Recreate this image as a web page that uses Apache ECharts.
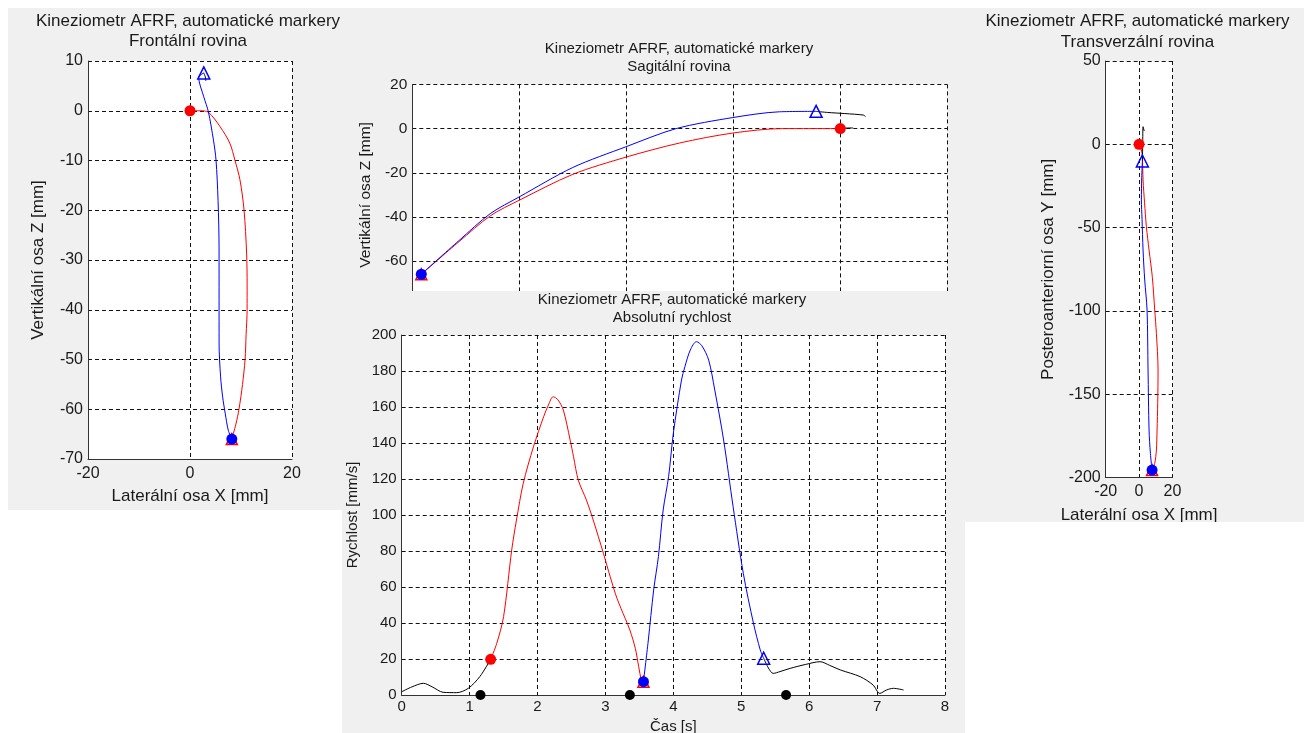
<!DOCTYPE html>
<html>
<head>
<meta charset="utf-8">
<script src="https://cdn.jsdelivr.net/npm/echarts@6/dist/echarts.min.js"></script>
<style>
  body { margin: 0; background: #fff; width: 1304px; height: 733px; overflow: hidden; position: relative; }
  .panel { position: absolute; background: #f0f0f0; }
  #frontal { left: 8px; top: 8px; width: 334px; height: 502px; }
  #sagittal { left: 342px; top: 8px; width: 623px; height: 300px; z-index: 1; }
  #velocity { left: 342px; top: 291px; width: 623px; height: 442px; z-index: 2; }
  #transverse { left: 965px; top: 8px; width: 339px; height: 514px; }
</style>
</head>
<body>
<div class="panel" id="frontal"></div>
<div class="panel" id="sagittal"></div>
<div class="panel" id="velocity"></div>
<div class="panel" id="transverse"></div>
<script>
var TITLE = 'Kineziometr AFRF, automatické markery';

// frontalni rovina: [X, Z]
var frontalRed = [[0, 0], [2, 0], [3.6, -0.3], [5.9, -3.2], [7.8, -6.5], [8.8, -9.9], [9.8, -13.9], [10.6, -20], [11.1, -28.6], [11.2, -35], [11.2, -40], [11, -45], [10.8, -50], [10.3, -55], [9.6, -60], [9, -63], [8.2, -66]];
var frontalBlue = [[8.2, -66], [7.5, -64.2], [6.9, -60.8], [6.4, -57.5], [6.0, -53.5], [5.7, -46.7], [5.7, -38], [5.7, -28], [5.5, -18], [5.1, -9.9], [4.6, -5.9], [3.6, -0.2], [2.7, 2.8], [1.7, 6.7], [2.7, 7.6]];
var frontalBlack = [[2.7, 7.6], [3.0, 6.8], [3.1, 6.0]];
var frontalMarks = { redStart: [0, 0], redEnd: [8.2, -66], blueStart: [8.2, -66], blueEnd: [2.7, 7.6] };

// sagitalni rovina: [Y, Z]
var sagRed = [[0, 0], [-26.9, 0], [-50.2, -2], [-75, -6.5], [-100.1, -12.9], [-125, -20.7], [-150, -32.4], [-163.6, -39.5], [-178.1, -51.1], [-195.8, -65.9]];
var sagBlue = [[-195.8, -65.9], [-178.1, -50.6], [-163.6, -38.5], [-150, -30.9], [-125, -17.6], [-100.1, -8.2], [-76.7, 0], [-50.2, 5], [-28.5, 7.6], [-11.3, 7.8]];
var sagBlack = [[-11.3, 7.8], [-5.9, 7.3], [2.1, 6.8], [10.9, 6.1], [11.8, 5.4]];
var sagBlack2 = [[0, 0.2], [6, 0.3]];
var sagMarks = { redStart: [0, 0], redEnd: [-195.8, -65.9], blueStart: [-195.8, -65.9], blueEnd: [-11.3, 7.8] };

// transverzalni rovina: [X, Y]
var transRed = [[0, 0], [1.4, -3.4], [2, -7.4], [2.4, -21.4], [3.3, -35], [4.4, -49.4], [6, -63.4], [8, -80], [9.4, -99.4], [10.4, -113.4], [11.4, -135.4], [11.2, -155], [10.8, -171.4], [10.4, -183.4], [9.4, -191.4], [7.8, -195.4]];
var transBlue = [[7.8, -195.4], [6.8, -185.4], [6, -171.4], [5.4, -135.4], [4.8, -99.4], [3.4, -81.4], [2.4, -63.4], [1.8, -45], [1.4, -33.4], [1.6, -20], [2, -10]];
var transBlack = [[2, -10], [2.2, 0], [2.4, 10.6], [3.1, 8]];
var transMarks = { redStart: [0, 0], redEnd: [7.8, -195.4], blueStart: [7.8, -195.4], blueEnd: [2, -10] };

// absolutni rychlost: [t, v]
var velBlackStart = [[0, 1.8], [0.15, 4.5], [0.32, 6.5], [0.45, 4.5], [0.61, 1.5], [0.81, 1.3], [0.98, 3.7], [1.15, 10.2], [1.31, 19.8]];
var velRed = [[1.31, 19.8], [1.40, 28.7], [1.50, 43.5], [1.62, 80.6], [1.69, 97.2], [1.79, 117.6], [1.94, 137.9], [2.09, 154.6], [2.16, 161.1], [2.23, 165.7], [2.30, 164], [2.38, 158.3], [2.48, 141.7], [2.53, 132.4], [2.60, 119.4], [2.72, 108.3], [2.82, 97.2], [2.97, 78.7], [3.07, 65.7], [3.17, 53.7], [3.29, 42.6], [3.36, 36.1], [3.44, 25.9], [3.49, 15.7], [3.53, 8.3], [3.56, 7.4]];
var velBlue = [[3.56, 7.4], [3.63, 30], [3.71, 58.3], [3.78, 76.9], [3.85, 102.8], [3.93, 121.3], [4.0, 145.4], [4.12, 175], [4.17, 182.4], [4.25, 191.7], [4.34, 196.3], [4.42, 194], [4.52, 186.1], [4.61, 169.4], [4.74, 141.7], [4.88, 104.6], [5.03, 67.6], [5.18, 39.8], [5.28, 25], [5.33, 20.4]];
var velBlackEnd = [[5.33, 20.4], [5.40, 15], [5.47, 12], [5.57, 13], [5.72, 14.8], [5.95, 17], [6.16, 18.5], [6.30, 16.5], [6.46, 13.9], [6.75, 10.2], [6.94, 5.6], [7.04, 0.9], [7.14, 2.8], [7.24, 3.7], [7.39, 2.8]];
var velZeros = [[1.16, 0], [3.36, 0], [5.66, 0]];
var velMarks = { redStart: [1.31, 19.8], redEnd: [3.56, 7.4], blueStart: [3.56, 7.4], blueEnd: [5.33, 20.4] };

var FONT = '"Liberation Sans", Arial, sans-serif';
var INK = '#1a1a1a';

function axis(min, max, interval, name, gap, fs, nfs, margin) {
  return {
    type: 'value', min: min, max: max, interval: interval,
    name: name, nameLocation: 'middle', nameGap: gap,
    nameTextStyle: { fontFamily: FONT, fontSize: nfs, color: INK },
    axisLine: { show: true, onZero: false, lineStyle: { color: '#333', width: 1 } },
    axisTick: { show: false },
    axisLabel: { fontFamily: FONT, fontSize: fs, color: INK, margin: margin },
    splitLine: { show: true, showMinLine: true, showMaxLine: true, lineStyle: { color: '#111', type: [4, 3], width: 1 } }
  };
}

function curve(data, color) {
  return { type: 'line', data: data, symbol: 'none', smooth: 0.3, lineStyle: { color: color, width: 1 }, z: 2, silent: true };
}

function mark(pt, shape, color, filled, size, z) {
  return {
    type: 'scatter', data: [pt], symbol: shape, symbolSize: size, z: z, silent: true,
    itemStyle: filled ? { color: color, opacity: 1 } : { color: 'rgba(0,0,0,0)', borderColor: color, borderWidth: 1.5, opacity: 1 }
  };
}

function marks(m) {
  return [
    mark(m.redEnd, 'triangle', '#ff0000', false, 11, 4),
    mark(m.blueEnd, 'triangle', '#0000ff', false, 12, 4),
    mark(m.redStart, 'circle', '#ff0000', true, 11, 5),
    mark(m.blueStart, 'circle', '#0000ff', true, 11, 5)
  ];
}

function titles(cx, y1, y2, fs, sub) {
  return [
    { type: 'text', x: cx, y: y1, style: { text: TITLE, font: fs + 'px ' + FONT, fill: INK, align: 'center', verticalAlign: 'middle' } },
    { type: 'text', x: cx, y: y2, style: { text: sub, font: fs + 'px ' + FONT, fill: INK, align: 'center', verticalAlign: 'middle' } }
  ];
}

function grid(l, t, w, h) {
  return { left: l, top: t, width: w, height: h, show: true, backgroundColor: '#fff', borderWidth: 0, outerBoundsMode: 'none', containLabel: false };
}

var frontalChart = echarts.init(document.getElementById('frontal'));
frontalChart.setOption({
  animation: false,
  backgroundColor: '#f0f0f0',
  graphic: titles(180, 13.7, 33.7, 17, 'Frontální rovina'),
  grid: grid(80, 53, 204, 398),
  xAxis: axis(-20, 20, 20, 'Laterální osa X [mm]', 29, 16, 17, 7),
  yAxis: axis(-70, 10, 10, 'Vertikální osa Z [mm]', 41, 16, 17, 5),
  series: [curve(frontalRed, '#ff0000'), curve(frontalBlue, '#0000ff'), curve(frontalBlack, '#000')].concat(marks(frontalMarks))
});

var sagX = axis(-200, 50, 50, '', 0, 15, 16, 7);
sagX.axisLabel.show = false;
var sagittalChart = echarts.init(document.getElementById('sagittal'));
sagittalChart.setOption({
  animation: false,
  backgroundColor: '#f0f0f0',
  graphic: titles(337, 40.9, 59.2, 15, 'Sagitální rovina'),
  grid: grid(70.3, 76.4, 535, 221),
  xAxis: sagX,
  yAxis: axis(-80, 20, 20, 'Vertikální osa Z [mm]', 33, 15.5, 15.5, 5),
  series: [curve(sagRed, '#ff0000'), curve(sagBlue, '#0000ff'), curve(sagBlack, '#000'), curve(sagBlack2, '#000')].concat(marks(sagMarks))
});

var velocityChart = echarts.init(document.getElementById('velocity'));
velocityChart.setOption({
  animation: false,
  backgroundColor: '#f0f0f0',
  graphic: titles(330, 9, 27, 15, 'Absolutní rychlost'),
  grid: grid(59.7, 44, 543.3, 360),
  xAxis: axis(0, 8, 1, 'Čas [s]', 23.5, 15, 15, 4),
  yAxis: axis(0, 200, 20, 'Rychlost [mm/s]', 38.5, 15, 15, 5),
  series: [
    curve(velBlackStart, '#000'), curve(velRed, '#ff0000'), curve(velBlue, '#0000ff'), curve(velBlackEnd, '#000'),
    { type: 'scatter', data: velZeros, symbol: 'circle', symbolSize: 10, itemStyle: { color: '#000', opacity: 1 }, z: 5, silent: true }
  ].concat(marks(velMarks))
});

var transverseChart = echarts.init(document.getElementById('transverse'));
transverseChart.setOption({
  animation: false,
  backgroundColor: '#f0f0f0',
  graphic: titles(172.5, 13.7, 34.7, 17, 'Transverzální rovina'),
  grid: grid(140.7, 53, 66.7, 416.7),
  xAxis: axis(-20, 20, 20, 'Laterální osa X [mm]', 29, 16, 17, 6),
  yAxis: axis(-200, 50, 50, 'Posteroanteriorní osa Y [mm]', 49, 16, 17, 5),
  series: [curve(transRed, '#ff0000'), curve(transBlue, '#0000ff'), curve(transBlack, '#000')].concat(marks(transMarks))
});
</script>
</body>
</html>
